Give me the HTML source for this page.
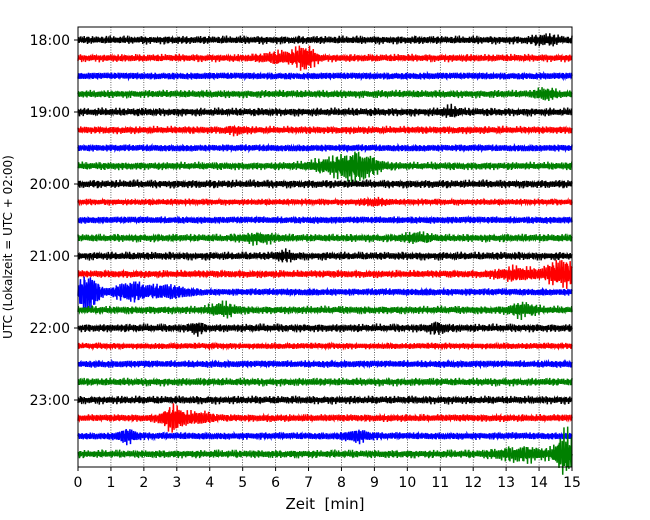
<!DOCTYPE html>
<html><head><meta charset="utf-8"><style>
body{margin:0;background:#fff;}
svg{display:block;font-family:"DejaVu Sans","Liberation Sans",sans-serif;}
</style></head><body>
<svg id="c" width="650" height="520"></svg>
<script>
const rowLabels=["18:00","","","","19:00","","","","20:00","","","","21:00","","","","22:00","","","","23:00","","",""];
const rowColors=["#000000","#ff0000","#0000ff","#008000"];
const baseAmp=[3.6,3.6,3.6,3.6, 3.6,3.6,3.6,3.6, 3.6,3,3.6,3.6, 3.6,3.6,3.6,3.6, 3.6,3,3.6,3.6, 3.6,3.6,3.6,3.6];
// events: row index, minute, amplitude(px half-height), width(min)
const evRow=[1,1,3,5,7,7,9,11,11,12,13,13,14,14,14,15,15,16,16,21,21,22,22,23,23,0,4];
const evMin=[6.9,6.2,14.2,4.8,8.5,7.8,9.0,5.5,10.3,6.3,14.7,13.3,0.3,1.6,2.7,4.4,13.5,3.6,10.9,2.9,3.7,1.5,8.5,14.8,13.5,14.2,11.3];
const evAmp=[10,4,4,2,10,5,2,3,3,3,12,5,19,8,5,5,5,4,3,11,4,5,4,19,5,3,3];
const evWid=[0.3,0.6,0.3,0.3,0.6,0.8,0.4,0.5,0.4,0.3,0.5,0.6,0.3,0.5,0.6,0.4,0.4,0.2,0.3,0.35,0.4,0.3,0.4,0.3,0.8,0.4,0.3];
const xTicks=[0,1,2,3,4,5,6,7,8,9,10,11,12,13,14,15];

const NS="http://www.w3.org/2000/svg";
const svg=document.getElementById('c');
const X0=78,X1=572,Y0=27,Y1=467,R0=40,DR=18;
const xs=m=>X0+(X1-X0)*m/15;
const ys=r=>R0+DR*r;
function mk(t,a){const e=document.createElementNS(NS,t);for(const k in a)e.setAttribute(k,a[k]);svg.appendChild(e);return e;}

for(const t of xTicks){
  if(t>0&&t<15){const g=mk('line',{x1:xs(t),x2:xs(t),y1:Y0,y2:Y1,stroke:'#000','stroke-width':0.6,'stroke-dasharray':'1,1.5'});
  
  }
}
for(let r=0;r<rowLabels.length;r++){
  let pts=[];const N=1600;
  for(let i=0;i<=N;i++){
    const m=15*i/N;
    let env=baseAmp[r];
    for(let k=0;k<evRow.length;k++){if(evRow[k]===r){const d=(m-evMin[k])/evWid[k];env+=evAmp[k]*Math.exp(-d*d);}}
    const w=Math.sin(i*2.1+r)*0.6+Math.sin(i*3.7+r*1.3)*0.4*Math.sin(i*0.05+r)+Math.sin(i*5.3)*0.3;
    pts.push(xs(m).toFixed(2)+','+(ys(r)+env*w).toFixed(2));
  }
  const p=mk('polyline',{points:pts.join(' '),fill:'none',stroke:rowColors[r%4],'stroke-width':1.5});
  
  
}
const fr=mk('rect',{x:X0,y:Y0,width:X1-X0,height:Y1-Y0,fill:'none',stroke:'#000','stroke-width':1});


for(let r=0;r<rowLabels.length;r++){
  if(!rowLabels[r])continue;
  mk('line',{x1:X0-4,x2:X0,y1:ys(r),y2:ys(r),stroke:'#000'});
  const t=mk('text',{x:X0-8,y:ys(r)+5,'text-anchor':'end','font-size':14});
  t.textContent=rowLabels[r];
  
  
}
for(const v of xTicks){
  mk('line',{x1:xs(v),x2:xs(v),y1:Y1,y2:Y1+4,stroke:'#000'});
  const t=mk('text',{x:xs(v),y:Y1+20,'text-anchor':'middle','font-size':14});
  t.textContent=v;
  
  
}
const xl=mk('text',{x:325,y:509,'text-anchor':'middle','font-size':15});
xl.textContent='Zeit  [min]';xl.style.whiteSpace='pre';


const yl=mk('text',{x:0,y:0,'text-anchor':'middle','font-size':12,transform:'translate(12,247) rotate(-90)'});
yl.textContent='UTC (Lokalzeit = UTC + 02:00)';


</script>
</body></html>
